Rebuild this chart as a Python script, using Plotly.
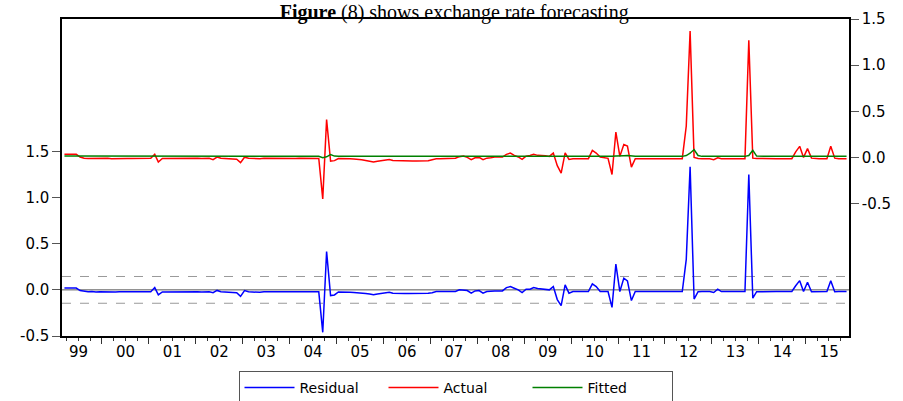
import pandas as pd
import plotly.graph_objects as go

# Monthly observations 1999M03 .. 2015M11 (points plotted mid-month)
dates = pd.date_range("1999-03-01", "2015-11-01", freq="MS") + pd.Timedelta(days=14)

actual = [
    # 1999 (M03-M12)
    0.033, 0.033, 0.033, 0.033, 0.004, -0.010, -0.012, -0.010, -0.014, -0.012,
    # 2000
    -0.012, -0.010, -0.015, -0.012, -0.010, -0.012, -0.011, -0.012, -0.010, -0.011, -0.010, -0.012,
    # 2001
    -0.010, 0.033, -0.050, -0.012, -0.011, -0.012, -0.010, -0.011, -0.012, -0.010, -0.011, -0.010,
    # 2002
    -0.010, -0.012, -0.011, -0.010, -0.025, 0.004, -0.010, -0.011, -0.012, -0.012, -0.020, -0.057,
    # 2003
    0.002, -0.010, -0.012, -0.011, -0.015, -0.010, -0.011, -0.012, -0.010, -0.011, -0.010, -0.011,
    # 2004
    -0.010, -0.011, -0.010, -0.011, -0.010, -0.011, -0.010, -0.011, -0.450, 0.410, -0.040, -0.035,
    # 2005
    -0.012, -0.011, -0.012, -0.014, -0.018, -0.020, -0.025, -0.033, -0.038, -0.051, -0.043, -0.036,
    # 2006
    -0.026, -0.022, -0.033, -0.036, -0.038, -0.040, -0.040, -0.040, -0.038, -0.038, -0.036, -0.036,
    # 2007
    -0.025, -0.014, -0.014, -0.014, -0.012, -0.012, -0.010, 0.008, 0.014, 0.000, -0.025, -0.004,
    # 2008
    0.000, -0.025, -0.008, -0.004, 0.004, 0.004, 0.004, 0.033, 0.047, 0.022, 0.005, -0.022,
    # 2009
    0.014, 0.020, 0.033, 0.022, 0.022, 0.018, 0.011, 0.047, -0.090, -0.170, 0.050, -0.022,
    # 2010
    -0.014, -0.014, -0.014, -0.014, -0.014, 0.076, 0.047, 0.004, -0.007, -0.010, -0.185, 0.275,
    # 2011
    0.011, 0.140, 0.123, -0.105, -0.014, -0.014, -0.014, -0.014, -0.014, -0.014, -0.014, -0.014,
    # 2012
    -0.014, -0.014, -0.014, -0.014, -0.014, 0.340, 1.370, 0.000, -0.012, -0.014, -0.014, -0.014,
    # 2013
    -0.025, -0.004, -0.014, -0.014, -0.014, -0.014, -0.014, -0.014, -0.014, 1.270, -0.008, -0.012,
    # 2014
    -0.014, -0.014, -0.014, -0.014, -0.014, -0.014, -0.014, -0.014, -0.014, 0.060, 0.120, 0.000,
    # 2015 (M01-M11)
    0.095, -0.008, -0.014, -0.014, -0.014, -0.014, 0.120, -0.008, -0.014, -0.014, -0.014,
]

fitted = [
    # 1999
    0.014, 0.014, 0.014, 0.014, 0.012, 0.011, 0.011, 0.011, 0.011, 0.011,
    # 2000
    0.011, 0.011, 0.011, 0.011, 0.011, 0.011, 0.011, 0.011, 0.011, 0.011, 0.011, 0.011,
    # 2001
    0.011, 0.013, 0.008, 0.011, 0.011, 0.011, 0.011, 0.011, 0.011, 0.011, 0.011, 0.011,
    # 2002
    0.011, 0.011, 0.011, 0.011, 0.011, 0.011, 0.011, 0.011, 0.011, 0.011, 0.011, 0.011,
    # 2003
    0.011, 0.011, 0.011, 0.011, 0.011, 0.011, 0.011, 0.011, 0.011, 0.011, 0.011, 0.011,
    # 2004
    0.011, 0.011, 0.011, 0.011, 0.011, 0.011, 0.011, 0.011, -0.004, 0.006, 0.030, 0.014,
    # 2005
    0.011, 0.011, 0.011, 0.011, 0.011, 0.011, 0.011, 0.011, 0.011, 0.011, 0.011, 0.011,
    # 2006
    0.011, 0.011, 0.011, 0.011, 0.011, 0.011, 0.011, 0.011, 0.011, 0.011, 0.011, 0.011,
    # 2007
    0.011, 0.011, 0.011, 0.011, 0.011, 0.011, 0.011, 0.011, 0.011, 0.011, 0.011, 0.011,
    # 2008
    0.011, 0.011, 0.011, 0.011, 0.011, 0.011, 0.011, 0.011, 0.011, 0.011, 0.011, 0.011,
    # 2009
    0.011, 0.011, 0.011, 0.011, 0.011, 0.011, 0.011, 0.011, 0.012, 0.006, 0.014, 0.011,
    # 2010
    0.011, 0.011, 0.011, 0.011, 0.011, 0.011, 0.011, 0.011, 0.011, 0.011, 0.011, 0.015,
    # 2011
    0.020, 0.018, 0.020, 0.014, 0.011, 0.011, 0.011, 0.011, 0.011, 0.011, 0.011, 0.011,
    # 2012
    0.011, 0.011, 0.011, 0.011, 0.011, 0.020, 0.045, 0.085, 0.020, 0.011, 0.011, 0.011,
    # 2013
    0.011, 0.011, 0.011, 0.011, 0.011, 0.011, 0.011, 0.011, 0.011, 0.020, 0.076, 0.014,
    # 2014
    0.011, 0.011, 0.011, 0.011, 0.011, 0.011, 0.011, 0.011, 0.011, 0.011, 0.015, 0.016,
    # 2015
    0.012, 0.015, 0.011, 0.011, 0.011, 0.011, 0.012, 0.016, 0.011, 0.011, 0.011,
]

residual = [
    # 1999
    0.019, 0.019, 0.019, 0.019, -0.008, -0.018, -0.020, -0.018, -0.024, -0.020,
    # 2000
    -0.022, -0.020, -0.026, -0.022, -0.020, -0.022, -0.021, -0.022, -0.020, -0.021, -0.020, -0.022,
    # 2001
    -0.020, 0.025, -0.055, -0.022, -0.021, -0.022, -0.020, -0.021, -0.022, -0.020, -0.021, -0.020,
    # 2002
    -0.020, -0.022, -0.021, -0.020, -0.030, -0.006, -0.020, -0.021, -0.022, -0.022, -0.030, -0.070,
    # 2003
    -0.008, -0.020, -0.022, -0.021, -0.027, -0.020, -0.021, -0.022, -0.020, -0.021, -0.020, -0.021,
    # 2004
    -0.020, -0.021, -0.020, -0.021, -0.020, -0.021, -0.020, -0.021, -0.460, 0.415, -0.062, -0.055,
    # 2005
    -0.022, -0.021, -0.022, -0.025, -0.029, -0.031, -0.036, -0.040, -0.045, -0.054, -0.044, -0.038,
    # 2006
    -0.030, -0.026, -0.036, -0.040, -0.040, -0.040, -0.040, -0.040, -0.040, -0.040, -0.038, -0.036,
    # 2007
    -0.030, -0.018, -0.018, -0.018, -0.018, -0.018, -0.018, 0.000, 0.000, -0.007, -0.036, -0.011,
    # 2008
    -0.007, -0.036, -0.018, -0.011, -0.011, -0.011, -0.011, 0.025, 0.036, 0.018, 0.000, -0.029,
    # 2009
    0.007, 0.007, 0.025, 0.014, 0.010, 0.007, 0.000, 0.036, -0.105, -0.170, 0.054, -0.036,
    # 2010
    -0.018, -0.018, -0.018, -0.018, -0.018, 0.065, 0.036, -0.018, -0.018, -0.018, -0.190, 0.280,
    # 2011
    -0.018, 0.127, 0.098, -0.116, -0.018, -0.018, -0.018, -0.018, -0.018, -0.018, -0.018, -0.018,
    # 2012
    -0.018, -0.018, -0.018, -0.018, -0.018, 0.330, 1.335, -0.100, -0.020, -0.018, -0.018, -0.018,
    # 2013
    -0.029, 0.008, -0.018, -0.018, -0.018, -0.018, -0.018, -0.018, -0.018, 1.250, -0.090, -0.020,
    # 2014
    -0.018, -0.018, -0.018, -0.018, -0.018, -0.018, -0.018, -0.018, -0.018, 0.045, 0.100, -0.018,
    # 2015
    0.083, -0.020, -0.018, -0.018, -0.018, -0.018, 0.100, -0.020, -0.018, -0.018, -0.018,
]

se_band = 0.145  # +/- 1 standard error of the regression (residual scale)

left_ticks = [-0.5, 0.0, 0.5, 1.0, 1.5]
left_labels = ["-0.5", "0.0", "0.5", "1.0", "1.5"]
right_ticks = [-0.5, 0.0, 0.5, 1.0, 1.5]
right_labels = ["-0.5", "0.0", "0.5", "1.0", "1.5"]

title_text = "<b>Figure</b> (8) shows exchange rate forecasting"

TICK_FONT = dict(family="DejaVu Sans", size=15, color="black")

fig = go.Figure()
fig.add_trace(go.Scatter(x=dates, y=residual, name="Residual", mode="lines",
                         line=dict(color="#0000FF", width=1.5), yaxis="y"))
fig.add_trace(go.Scatter(x=dates, y=actual, name="Actual", mode="lines",
                         line=dict(color="#FF0000", width=1.5), yaxis="y2"))
fig.add_trace(go.Scatter(x=dates, y=fitted, name="Fitted", mode="lines",
                         line=dict(color="#008000", width=1.5), yaxis="y2"))

# zero line and +/- S.E. band on residual axis
fig.add_hline(y=0, line=dict(color="#555555", width=1), layer="below")
fig.add_hline(y=se_band, line=dict(color="#999999", width=1, dash="dash"), layer="below")
fig.add_hline(y=-se_band, line=dict(color="#999999", width=1, dash="dash"), layer="below")

fig.update_layout(
    width=903, height=401,
    margin=dict(l=62, r=54, t=19, b=65, autoexpand=False),
    paper_bgcolor="white", plot_bgcolor="white",
    title=dict(text=title_text, x=0.503, xref="container", xanchor="center",
               y=0.9713, yref="container", yanchor="middle",
               font=dict(family="Liberation Serif", size=20, color="black")),
    xaxis=dict(
        type="date", range=["1999-02-24", "2015-12-04"],
        tick0="2000-01-01", dtick="M12", tickformat="%y", ticklabelmode="period",
        ticks="outside", ticklen=6, tickwidth=1, tickcolor="#333",
        ticklabelstandoff=-5,
        minor=dict(dtick="M3", tick0="2000-01-01", ticks="outside", ticklen=3,
                   tickwidth=1, tickcolor="#333", showgrid=False),
        showgrid=False, zeroline=False,
        showline=True, linecolor="black", linewidth=1.5, mirror=True,
        tickfont=TICK_FONT,
    ),
    yaxis=dict(
        range=[-0.5, 2.936], tickvals=left_ticks, ticktext=left_labels,
        ticks="outside", ticklen=8, tickwidth=1, tickcolor="#555",
        showgrid=False, zeroline=False,
        showline=True, linecolor="black", linewidth=1.5,
        tickfont=TICK_FONT,
    ),
    yaxis2=dict(
        range=[-1.936, 1.5], tickvals=right_ticks, ticktext=right_labels,
        overlaying="y", side="right",
        ticks="outside", ticklen=8, tickwidth=1, tickcolor="#555",
        showgrid=False, zeroline=False,
        showline=True, linecolor="black", linewidth=1.5,
        tickfont=TICK_FONT,
    ),
    showlegend=True,
    legend=dict(orientation="h", x=0.5, xanchor="center",
                y=(401 - 371) / 401, yref="container", yanchor="top",
                bgcolor="white", bordercolor="#555555", borderwidth=1,
                font=dict(family="DejaVu Sans", size=14, color="black"),
                itemwidth=50, entrywidth=79, entrywidthmode="pixels",
                traceorder="normal"),
)

fig.write_html("out.html")
